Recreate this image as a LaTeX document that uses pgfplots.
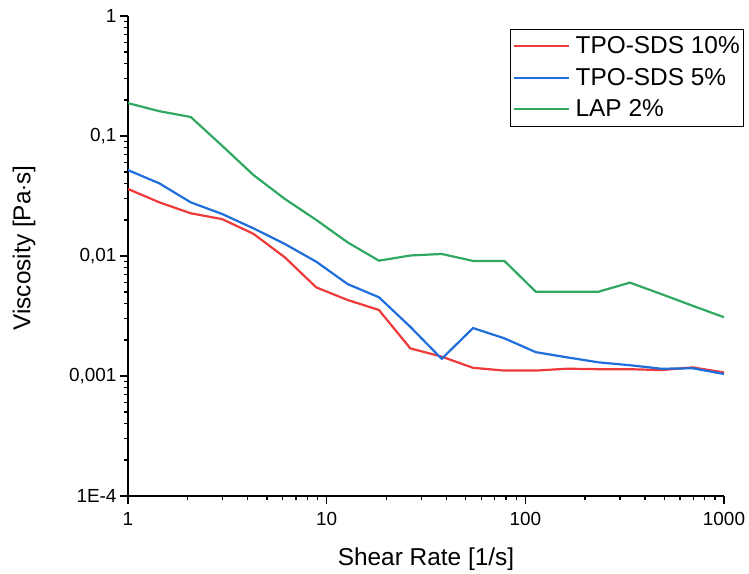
\documentclass[border=0pt]{standalone}
\usepackage{fontspec}
\setmainfont{Liberation Sans}
\usepackage{pgfplots}
\pgfplotsset{compat=1.18}
\definecolor{cred}{RGB}{238,58,58}
\definecolor{cblue}{RGB}{30,110,220}
\definecolor{cgreen}{RGB}{48,168,98}
\begin{document}
\begin{tikzpicture}
\begin{axis}[
  scale only axis, width=596bp, height=480bp,
  xmode=log, ymode=log,
  xmin=1, xmax=1000, ymin=1e-4, ymax=1,
  axis lines*=left,
  axis line style={line width=1.5bp, black},
  tick align=outside,
  major tick length=8bp, minor tick length=4bp,
  every tick/.style={black, line width=1.3bp},
  xtick={1,10,100,1000}, xticklabels={1,10,100,1000},
  ytick={1e-4,1e-3,1e-2,1e-1,1}, yticklabels={1E-4,{0,001},{0,01},{0,1},1},
  minor xtick={2,3,4,5,6,7,8,9,20,30,40,50,60,70,80,90,200,300,400,500,600,700,800,900},
  minor ytick={2e-4,3e-4,4e-4,5e-4,6e-4,7e-4,8e-4,9e-4,2e-3,3e-3,4e-3,5e-3,6e-3,7e-3,8e-3,9e-3,0.02,0.03,0.04,0.05,0.06,0.07,0.08,0.09,0.2,0.3,0.4,0.5,0.6,0.7,0.8,0.9},
  ticklabel style={font=\fontsize{19}{21}\selectfont},
  xticklabel style={yshift=-5bp},
  xlabel={Shear Rate [1/s]}, ylabel={Viscosity [Pa$\cdot$s]},
  label style={font=\fontsize{24.5}{27}\selectfont},
  xlabel style={at={(axis description cs:0.5,-0.14375)}, anchor=base},
  ylabel style={at={(axis description cs:-0.1636,0.5167)}, anchor=base},
  legend style={at={(axis description cs:0.641,0.973)}, anchor=north west,
    draw=black, line width=0.8bp, font=\fontsize{24.5}{27}\selectfont,
    inner xsep=2bp, inner ysep=5.5bp, row sep=9bp},
  legend cell align=left,
  legend image code/.code={\draw[#1, line width=2.2bp] (0bp,0bp) -- (55bp,0bp); \path (59bp,0bp);},
  every axis plot/.append style={line width=2.2bp},
]
\addplot[cred] coordinates {
(1,0.0362) (1.4384,0.0280) (2.0691,0.0227) (2.9764,0.0203) (4.2813,0.0153)
(6.1585,0.00975) (8.8587,0.00548) (12.743,0.0043) (18.330,0.00355) (26.367,0.0017)
(37.927,0.00145) (54.556,0.00117) (78.476,0.00111) (112.88,0.00111) (162.38,0.00115)
(233.57,0.00114) (335.98,0.00114) (483.29,0.00112) (695.19,0.00118) (1000,0.00107)};
\addlegendentry{TPO-SDS 10\%}
\addplot[cblue] coordinates {
(1,0.052) (1.4384,0.0403) (2.0691,0.028) (2.9764,0.0224) (4.2813,0.017)
(6.1585,0.0126) (8.8587,0.00897) (12.743,0.00584) (18.330,0.00453) (26.367,0.00257)
(37.927,0.00139) (54.556,0.00251) (78.476,0.00206) (112.88,0.00158) (162.38,0.00143)
(233.57,0.00130) (335.98,0.00123) (483.29,0.00115) (695.19,0.00116) (1000,0.00104)};
\addlegendentry{TPO-SDS 5\%}
\addplot[cgreen] coordinates {
(1,0.188) (1.4384,0.161) (2.0691,0.144) (2.9764,0.083) (4.2813,0.0473)
(6.1585,0.0299) (8.8587,0.0200) (12.743,0.0130) (18.330,0.00914) (26.367,0.0101)
(37.927,0.0104) (54.556,0.0091) (78.476,0.0091) (112.88,0.00504) (162.38,0.00504)
(233.57,0.00504) (335.98,0.0060) (483.29,0.00482) (695.19,0.00385) (1000,0.00309)};
\addlegendentry{LAP 2\%}
\end{axis}
\pgfresetboundingbox
\useasboundingbox (-128bp,-78bp) rectangle (621bp,496bp);
\end{tikzpicture}
\end{document}
